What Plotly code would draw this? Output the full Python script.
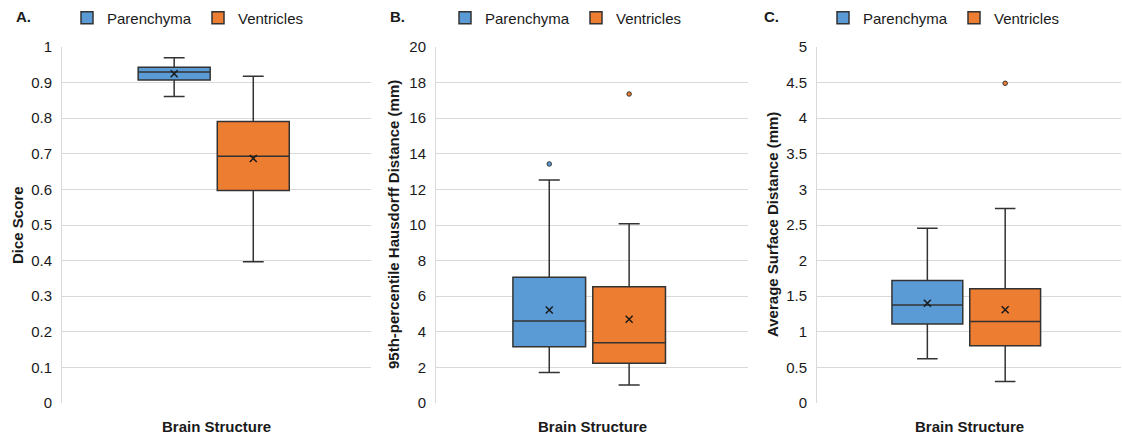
import plotly.graph_objects as go

# ---------------- data ----------------
categories = ["Parenchyma", "Ventricles"]

dice_q1 = [0.907, 0.597]
dice_median = [0.930, 0.693]
dice_q3 = [0.943, 0.791]
dice_lower = [0.861, 0.397]
dice_upper = [0.970, 0.918]
dice_mean = [0.925, 0.687]
dice_outliers = [[], []]

hd_q1 = [3.16, 2.23]
hd_median = [4.61, 3.39]
hd_q3 = [7.06, 6.53]
hd_lower = [1.72, 1.01]
hd_upper = [12.53, 10.07]
hd_mean = [5.22, 4.70]
hd_outliers = [[13.43], [17.36]]

asd_q1 = [1.11, 0.805]
asd_median = [1.375, 1.146]
asd_q3 = [1.72, 1.605]
asd_lower = [0.622, 0.303]
asd_upper = [2.456, 2.733]
asd_mean = [1.40, 1.31]
asd_outliers = [[], [4.49]]

panel_letters = ["A.", "B.", "C."]
y_titles = ["Dice Score", "95th-percentile Hausdorff Distance (mm)", "Average Surface Distance (mm)"]
x_title = "Brain Structure"
y_ranges = [(0, 1), (0, 20), (0, 5)]
y_dticks = [0.1, 2, 0.5]

# ---------------- styling / layout ----------------
W, H = 1122, 437
colors = ["#5B9BD5", "#ED7D31"]
box_pos = [0.363, 0.619]
box_width = 0.233
plot_px = [(62, 371), (436, 748), (817, 1121)]
plot_top, plot_bottom = 47, 403
legend_centers = [198, 576, 954]
ytitle_x = [17, 393, 772]
letter_x = [14, 388, 762]
FONT = "Liberation Sans, Arial, Helvetica, sans-serif"
GRID = "#d9d9d9"

panels = [
    (dice_q1, dice_median, dice_q3, dice_lower, dice_upper, dice_mean, dice_outliers),
    (hd_q1, hd_median, hd_q3, hd_lower, hd_upper, hd_mean, hd_outliers),
    (asd_q1, asd_median, asd_q3, asd_lower, asd_upper, asd_mean, asd_outliers),
]

fig = go.Figure()
annotations = []
layout_extra = {}

for i, (q1, med, q3, lo, up, mean, outs) in enumerate(panels):
    suffix = "" if i == 0 else str(i + 1)
    xa, ya = "x" + suffix, "y" + suffix
    leg = "legend" + suffix
    for j, cat in enumerate(categories):
        fig.add_trace(go.Box(
            x=[box_pos[j]], q1=[q1[j]], median=[med[j]], q3=[q3[j]],
            lowerfence=[lo[j]], upperfence=[up[j]],
            width=box_width, whiskerwidth=0.29,
            fillcolor=colors[j], line=dict(color="#333333", width=1.5),
            name=cat, legend=leg, boxpoints=False,
            xaxis=xa, yaxis=ya,
        ))
    for j, cat in enumerate(categories):
        fig.add_trace(go.Scatter(
            x=[box_pos[j]], y=[mean[j]], mode="markers",
            marker=dict(symbol="x-thin", size=7, line=dict(width=1.5, color="#1a1a1a")),
            showlegend=False, xaxis=xa, yaxis=ya, hoverinfo="y",
        ))
        if outs[j]:
            fig.add_trace(go.Scatter(
                x=[box_pos[j]] * len(outs[j]), y=outs[j], mode="markers",
                marker=dict(symbol="circle", size=4.5, color=colors[j],
                            line=dict(width=1, color="#333333")),
                showlegend=False, xaxis=xa, yaxis=ya, hoverinfo="y",
            ))

    x0, x1 = plot_px[i]
    layout_extra["xaxis" + suffix] = dict(
        domain=[x0 / W, x1 / W], range=[0, 1], showticklabels=False,
        showgrid=False, zeroline=False, showline=False, ticks="",
        anchor=ya, fixedrange=True,
    )
    layout_extra["yaxis" + suffix] = dict(
        domain=[1 - plot_bottom / H, 1 - plot_top / H], range=list(y_ranges[i]),
        dtick=y_dticks[i], tick0=0, showgrid=True, gridcolor=GRID, gridwidth=1,
        zeroline=False, showline=True, linecolor=GRID, linewidth=1,
        ticks="", ticklabelstandoff=6,
        tickfont=dict(family=FONT, size=15, color="#1a1a1a"),
        anchor=xa, fixedrange=True,
    )
    layout_extra[leg] = dict(
        orientation="h", x=legend_centers[i] / W, y=1 - 18 / H,
        xanchor="center", yanchor="middle", bgcolor="rgba(0,0,0,0)",
        font=dict(family=FONT, size=15, color="#1a1a1a"),
        itemwidth=30, traceorder="normal", tracegroupgap=0,
        entrywidth=86, entrywidthmode="pixels",
    )
    annotations.append(dict(
        text="<b>" + panel_letters[i] + "</b>", x=letter_x[i] / W, y=1 - 17 / H,
        xref="paper", yref="paper", xanchor="left", yanchor="middle",
        showarrow=False, font=dict(family=FONT, size=15, color="#1a1a1a"),
    ))
    annotations.append(dict(
        text="<b>" + y_titles[i] + "</b>", x=ytitle_x[i] / W,
        y=1 - (plot_top + plot_bottom) / 2 / H, textangle=-90,
        xref="paper", yref="paper", xanchor="center", yanchor="middle",
        showarrow=False, font=dict(family=FONT, size=15, color="#1a1a1a"),
    ))
    annotations.append(dict(
        text="<b>" + x_title + "</b>", x=(x0 + x1) / 2 / W, y=1 - 426 / H,
        xref="paper", yref="paper", xanchor="center", yanchor="middle",
        showarrow=False, font=dict(family=FONT, size=15, color="#1a1a1a"),
    ))

fig.update_layout(
    width=W, height=H,
    margin=dict(l=0, r=0, t=0, b=0, autoexpand=False),
    paper_bgcolor="white", plot_bgcolor="white",
    font=dict(family=FONT, size=15, color="#1a1a1a"),
    annotations=annotations,
    **layout_extra,
)

fig.write_html("out.html")
